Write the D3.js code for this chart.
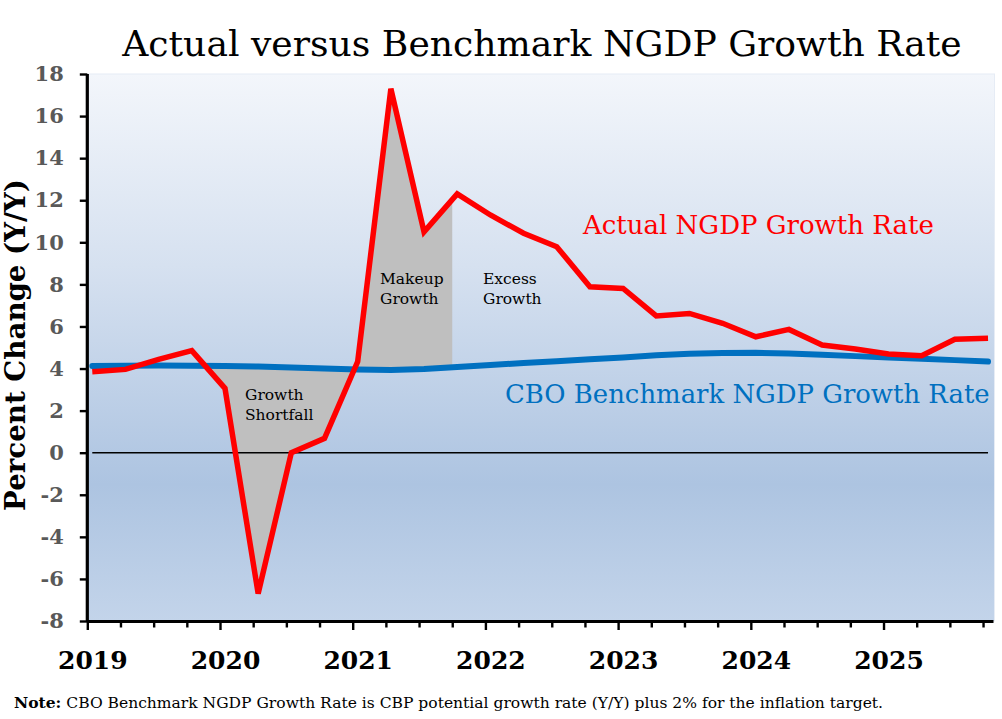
<!DOCTYPE html>
<html>
<head>
<meta charset="utf-8">
<script src="https://cdn.jsdelivr.net/npm/d3@7"></script>
<style>
  body { margin: 0; background: #fff; }
  svg { display: block; }
</style>
</head>
<body>
<svg id="ngdp" width="1002" height="719"></svg>
<script>
// quarterly data, 2019Q1 .. 2025Q4
var quarters = ["2019Q1","2019Q2","2019Q3","2019Q4","2020Q1","2020Q2","2020Q3","2020Q4",
                "2021Q1","2021Q2","2021Q3","2021Q4","2022Q1","2022Q2","2022Q3","2022Q4",
                "2023Q1","2023Q2","2023Q3","2023Q4","2024Q1","2024Q2","2024Q3","2024Q4",
                "2025Q1","2025Q2","2025Q3","2025Q4"];
var actual = [3.85, 3.96, 4.44, 4.85, 3.06, -6.7, 0.0, 0.68,
              4.33, 17.3, 10.5, 12.3, 11.3, 10.43, 9.79, 7.89,
              7.81, 6.5, 6.62, 6.15, 5.51, 5.86, 5.12, 4.93,
              4.69, 4.61, 5.39, 5.44];
var benchmark = [4.12, 4.13, 4.14, 4.13, 4.12, 4.1, 4.05, 4.0,
                 3.95, 3.93, 3.98, 4.07, 4.17, 4.26, 4.35, 4.44,
                 4.52, 4.63, 4.7, 4.74, 4.75, 4.72, 4.65, 4.59,
                 4.53, 4.46, 4.4, 4.33];
var yearLabels = ["2019","2020","2021","2022","2023","2024","2025"];
var yTicks = [-8,-6,-4,-2,0,2,4,6,8,10,12,14,16,18];
var makeupEndQuarter = "2021Q4";   // grey "makeup" wedge stops here

var svg = d3.select("#ngdp"),
    margin = {top: 74, right: 9, bottom: 98, left: 87.3},
    width = +svg.attr("width") - margin.left - margin.right,
    height = +svg.attr("height") - margin.top - margin.bottom;

var serif = "'DejaVu Serif', Georgia, serif";

var x = d3.scaleLinear().domain([0, 27.3]).range([0, width]);
var y = d3.scaleLinear().domain([-8, 18]).range([height, 0]);
var shift = 0.15; // points sit a little right of the quarter ticks

function px(i) { return x(i + shift); }

var g = svg.append("g")
    .attr("transform", "translate(" + margin.left + "," + margin.top + ")");

// plot background gradient
var grad = svg.append("defs").append("linearGradient")
    .attr("id", "bg").attr("x1", 0).attr("y1", 0).attr("x2", 0).attr("y2", 1);
grad.append("stop").attr("offset", "0%").attr("stop-color", "#f3f6fb");
grad.append("stop").attr("offset", "35%").attr("stop-color", "#d6e1f0");
grad.append("stop").attr("offset", "75%").attr("stop-color", "#adc4e1");
grad.append("stop").attr("offset", "100%").attr("stop-color", "#c3d4ea");

g.append("rect")
    .attr("x", 0).attr("y", 0)
    .attr("width", width + 1.5).attr("height", height)
    .style("fill", "url(#bg)")
    .style("stroke", "#e6ecf5").style("stroke-width", 1);

// find where actual crosses benchmark between point i and i+1
function crossing(i) {
    var d0 = actual[i] - benchmark[i], d1 = actual[i + 1] - benchmark[i + 1];
    return i + d0 / (d0 - d1);
}
function valAt(arr, q) {
    var i = Math.min(Math.floor(q), arr.length - 2), t = q - i;
    return arr[i] + (arr[i + 1] - arr[i]) * t;
}
function region(a, b) {
    var qs = [a];
    for (var i = Math.ceil(a); i < b; i++) { if (i > a) qs.push(i); }
    qs.push(b);
    return qs.map(function(q) { return {q: q, red: valAt(actual, q), blue: valAt(benchmark, q)}; });
}

var c1 = crossing(3), c2 = crossing(7);
var makeupEnd = quarters.indexOf(makeupEndQuarter) - shift;

var area = d3.area()
    .x(function(d) { return px(d.q); })
    .y0(function(d) { return y(d.blue); })
    .y1(function(d) { return y(d.red); });

g.selectAll(".gap")
    .data([region(c1, c2), region(c2, makeupEnd)])
    .enter().append("path")
    .attr("class", "gap")
    .attr("d", area)
    .style("fill", "#bfbfbf");

// zero line
g.append("line")
    .attr("x1", px(0)).attr("x2", px(quarters.length - 1))
    .attr("y1", y(0)).attr("y2", y(0))
    .style("stroke", "#000").style("stroke-width", 1.6);

var line = d3.line()
    .x(function(d, i) { return px(i); })
    .y(function(d) { return y(d); });

g.append("path")
    .datum(benchmark)
    .attr("d", line)
    .style("fill", "none")
    .style("stroke", "#0070c0")
    .style("stroke-width", 6)
    .style("stroke-linecap", "round");

g.append("path")
    .datum(actual)
    .attr("d", line)
    .style("fill", "none")
    .style("stroke", "#ff0000")
    .style("stroke-width", 5.5)
    .style("stroke-linejoin", "miter");

// x axis
var xAxis = g.append("g")
    .attr("class", "axis axis--x")
    .attr("transform", "translate(0," + height + ")")
    .call(d3.axisBottom(x)
        .tickValues(d3.range(quarters.length))
        .tickSize(6.5).tickSizeOuter(0).tickPadding(24)
        .tickFormat(function(i) { return i % 4 === 0 ? yearLabels[i / 4] : ""; }));
xAxis.select(".domain").style("stroke-width", 3.2);
xAxis.selectAll(".tick line")
    .style("stroke-width", 2.4)
    .attr("y2", function(i) { return i % 4 === 0 ? 9 : 6.5; });
xAxis.selectAll(".tick text")
    .attr("dx", 5)
    .style("font-family", serif)
    .style("font-weight", "bold")
    .style("font-size", "25px")
    .style("fill", "#000");

// y axis
var yAxis = g.append("g")
    .attr("class", "axis axis--y")
    .call(d3.axisLeft(y).tickValues(yTicks).tickSize(7.5).tickSizeOuter(0).tickPadding(16)
        .tickFormat(function(d) { return String(d); }));
yAxis.select(".domain").style("stroke-width", 3.2).attr("d", "M0," + height + "V0");
yAxis.selectAll(".tick line").style("stroke-width", 2.4);
yAxis.selectAll(".tick text")
    .style("font-family", serif)
    .style("font-weight", "bold")
    .style("font-size", "21px")
    .style("fill", "#595959");

// text that has to match a measured width
function fit(sel, target) {
    var fs = parseFloat(sel.style("font-size"));
    var w = sel.node().getComputedTextLength();
    sel.style("font-size", (fs * target / w) + "px");
    return sel;
}

fit(svg.append("text")
    .attr("x", 542).attr("y", 56)
    .attr("text-anchor", "middle")
    .style("font-family", serif)
    .style("font-size", "33px")
    .style("fill", "#000")
    .text("Actual versus Benchmark NGDP Growth Rate"), 840);

fit(svg.append("text")
    .attr("x", 583).attr("y", 234)
    .style("font-family", serif)
    .style("font-size", "26px")
    .style("fill", "#ff0000")
    .text("Actual NGDP Growth Rate"), 351);

fit(svg.append("text")
    .attr("x", 505).attr("y", 403)
    .style("font-family", serif)
    .style("font-size", "26px")
    .style("fill", "#0070c0")
    .text("CBO Benchmark NGDP Growth Rate"), 485);

fit(svg.append("text")
    .attr("transform", "translate(25,345)rotate(-90)")
    .attr("text-anchor", "middle")
    .style("font-family", serif)
    .style("font-weight", "bold")
    .style("font-size", "25px")
    .style("fill", "#000")
    .text("Percent Change (Y/Y)"), 332);

// region notes
var notes = [
    {x: 380, y: 284, lines: ["Makeup", "Growth"]},
    {x: 483, y: 284, lines: ["Excess", "Growth"]},
    {x: 245, y: 400, lines: ["Growth", "Shortfall"]}
];
notes.forEach(function(n) {
    var t = svg.append("text")
        .attr("x", n.x).attr("y", n.y)
        .style("font-family", serif)
        .style("font-size", "15.5px")
        .style("fill", "#000");
    n.lines.forEach(function(s, i) {
        t.append("tspan").attr("x", n.x).attr("dy", i === 0 ? 0 : 20).text(s);
    });
});

var note = svg.append("text")
    .attr("x", 14).attr("y", 708)
    .style("font-family", serif)
    .style("font-size", "15px")
    .style("fill", "#000");
note.append("tspan").style("font-weight", "bold").text("Note:");
note.append("tspan").text(" CBO Benchmark NGDP Growth Rate is CBP potential growth rate (Y/Y) plus 2% for the inflation target.");
fit(note, 870);
</script>
</body>
</html>
